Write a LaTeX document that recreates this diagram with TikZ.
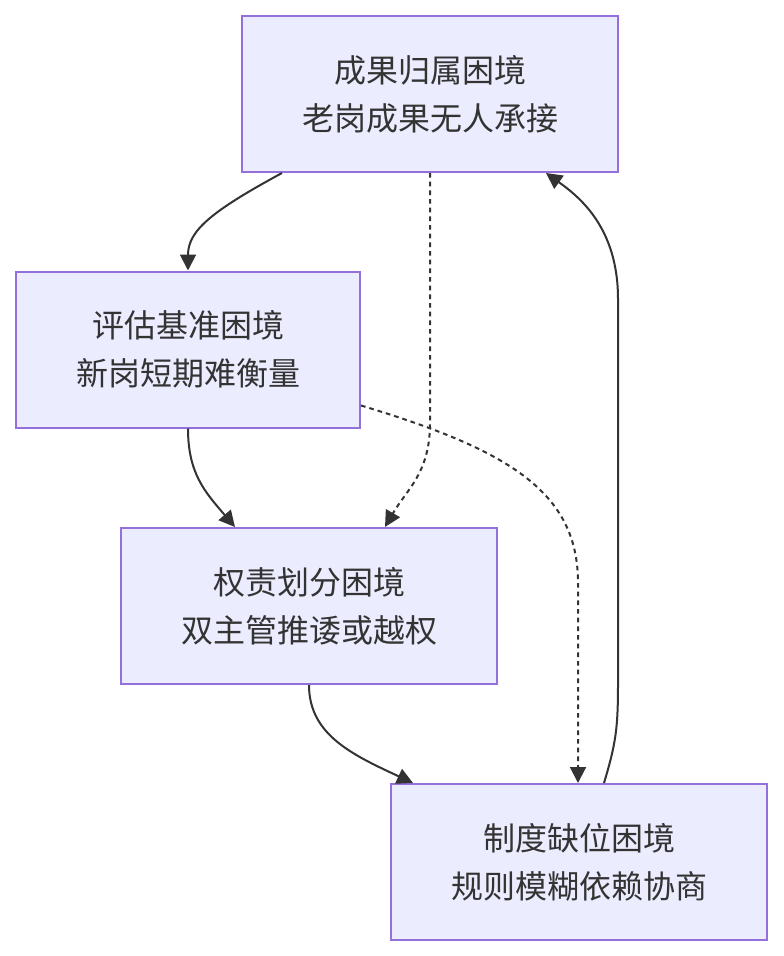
\documentclass[tikz,border=0pt]{standalone}
\usepackage{fontspec}
\setmainfont{Noto Sans CJK SC}
\usetikzlibrary{arrows.meta,calc}
\definecolor{Lilac}{HTML}{ECECFF}
\definecolor{Violet}{HTML}{9370DB}
\definecolor{Ink}{HTML}{333333}

\begin{document}
\begin{tikzpicture}[x=0.75pt,y=-0.75pt,
    trap/.style={draw=Violet,line width=1.5pt,fill=Lilac,minimum width=282pt,minimum height=117pt,align=center,text=Ink,font=\fontsize{24}{36}\selectfont},
    flow/.style={-{Triangle[length=12pt,width=12pt]},line width=1.5pt,draw=Ink},
    weak/.style={flow,dash pattern=on 3.5pt off 3pt}
  ]
    \useasboundingbox (0,0) rectangle (783,956);
    \node[trap] (own) at (430,94) {成果归属困境\\老岗成果无人承接};
    \node[trap,minimum width=258pt] (base) at (188,349.5) {评估基准困境\\新岗短期难衡量};
    \node[trap] (duty) at (309,606) {权责划分困境\\双主管推诿或越权};
    \node[trap] (gap) at (579,862) {制度缺位困境\\规则模糊依赖协商};
    \draw[flow] ($(own.south)+(-148,0)$) .. controls +(-70,38) and +(0,-40) .. (base.north);
    \draw[weak] (own.south) -- ++(0,250) .. controls +(0,50) and +(22,-38) .. ($(duty.north)+(76,0)$);
    \draw[flow] (base.south) .. controls +(0,45) and +(-30,-35) .. ($(duty.north)+(-74,0)$);
    \draw[weak] ($(base.east)+(0,56)$) .. controls +(150,45) and +(0,-90) .. ($(gap.north)+(-1,-200)$) -- ($(gap.north)+(-1,0)$);
    \draw[flow] (duty.south) .. controls +(0,50) and +(-60,-28) .. ($(gap.north)+(-166,0)$);
    \draw[flow] ($(gap.north)+(25,0)$) .. controls +(12,-40) and +(0,45) .. ++(14,-100) -- ++(0,-384) .. controls +(0,-70) and +(35,25) .. ($(own.south)+(116,0)$);
  \end{tikzpicture}
\end{document}
